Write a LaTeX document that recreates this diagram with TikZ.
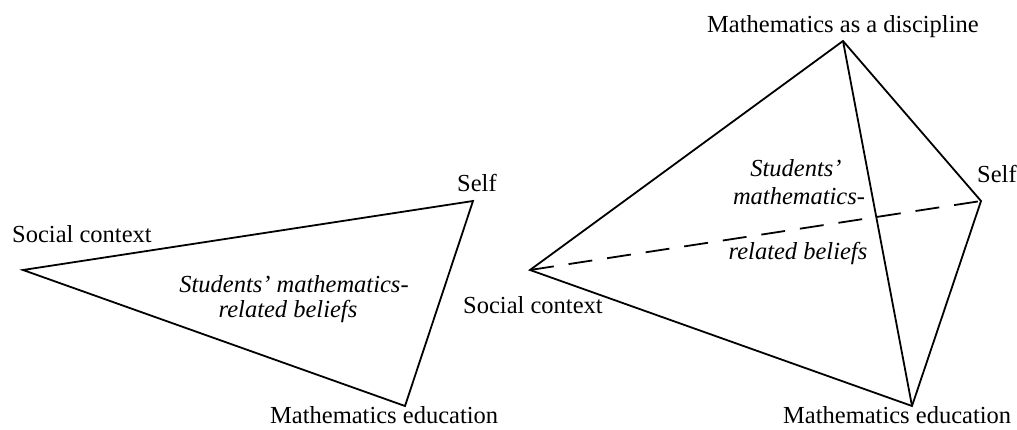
\documentclass[tikz,border=0pt]{standalone}
\usepackage{fontspec}
\setmainfont{Liberation Serif}
\begin{document}
\begin{tikzpicture}[x=1pt,y=-1pt,
  lbl/.style={inner sep=0pt,anchor=base west,font=\fontsize{24.5}{29}\selectfont},
  ital/.style={inner sep=0pt,anchor=base,font=\fontsize{24.5}{29}\selectfont\itshape},
  edge/.style={line width=1.8pt,line join=miter},
  hidden/.style={line width=1.8pt,dash pattern=on 24pt off 15pt}]
\useasboundingbox (0,0) rectangle (1017,430);
% left triangle
\coordinate (LS) at (23,270);
\coordinate (LF) at (473,201);
\coordinate (LM) at (405,406);
\draw[edge] (LS) -- (LF) -- (LM) -- cycle;
\node[lbl] (lsc) at (12,243) {Social context};
\node[lbl] (lsf) at (457,192) {Self};
\node[lbl] (lme) at (270,423) {Mathematics education};
\node[ital] (lb1) at (294,292) {Students’ mathematics-};
\node[ital] (lb2) at (288,317) {related beliefs};
% right tetrahedron
\coordinate (RD) at (843,41);
\coordinate (RS) at (530,270);
\coordinate (RF) at (981,201);
\coordinate (RM) at (912,406);
\draw[edge] (RS) -- (RD) -- (RF) -- (RM) -- cycle;
\draw[edge] (RD) -- (RM);
\draw[hidden] (RS) -- (RF);
\node[lbl] (rmd) at (707,33) {Mathematics as a discipline};
\node[lbl] (rsf) at (977,183) {Self};
\node[lbl] (rsc) at (463,313) {Social context};
\node[lbl] (rme) at (783,423) {Mathematics education};
\node[ital] (rb1) at (796,177) {Students’};
\node[ital] (rb2) at (799,205) {mathematics-};
\node[ital] (rb3) at (798,260) {related beliefs};
\end{tikzpicture}
\end{document}
